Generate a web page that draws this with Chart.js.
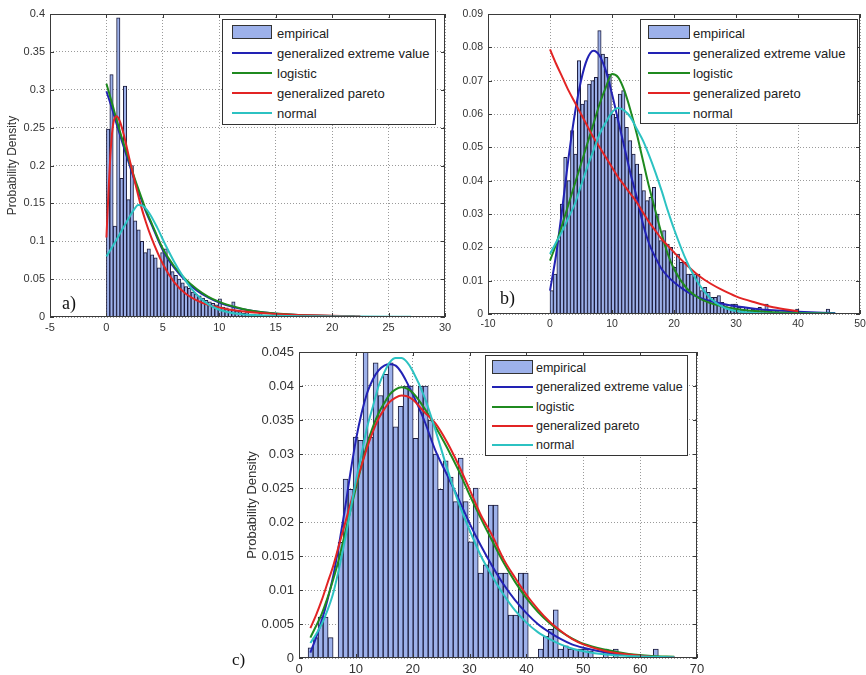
<!DOCTYPE html>
<html>
<head>
<meta charset="utf-8">
<script src="https://cdn.jsdelivr.net/npm/chart.js@4.4.0/dist/chart.umd.min.js"></script>
<style>
    body { margin: 0; background: #fff; width: 866px; height: 675px; position: relative; overflow: hidden; font-family: "Liberation Sans", Arial, sans-serif; }
    .panel { position: absolute; }
    .legend { position: absolute; background: #fff; border: 1px solid #333; box-sizing: border-box; color: #222; }
    .legend .row { position: absolute; height: 20px; display: flex; align-items: center; white-space: nowrap; }
    .legend .key { position: absolute; }
    .tag { position: absolute; font-family: "Liberation Serif", "DejaVu Serif", serif; line-height: 1; color: #111; }
</style>
</head>
<body>
<div class="panel" style="left:0;top:0"><canvas id="chartA" width="452" height="335"></canvas></div>
<div class="panel" style="left:440px;top:0"><canvas id="chartB" width="426" height="335"></canvas></div>
<div class="panel" style="left:220px;top:340px"><canvas id="chartC" width="490" height="335"></canvas></div>
<div class="tag" style="left:62px;top:294px;font-size:18px">a)</div>
<div class="tag" style="left:500px;top:289px;font-size:18px">b)</div>
<div class="tag" style="left:232px;top:651px;font-size:17px">c)</div>

<script>
const legendLabels = ['empirical', 'generalized extreme value', 'logistic', 'generalized pareto', 'normal'];

// ---- panel a ----
const binStartA = 0;
const binWidthA = 0.3;
const empiricalA = [0.248, 0.32, 0.12, 0.395, 0.183, 0.305, 0.155, 0.2, 0.127, 0.115,
    0.1, 0.085, 0.09, 0.082, 0.078, 0.065, 0.085, 0.09, 0.075, 0.06,
    0.055, 0.05, 0.045, 0.04, 0.038, 0.033, 0.03, 0.028, 0.025, 0.022,
    0.02, 0.018, 0.016, 0.024, 0.013, 0.012, 0.01, 0.02, 0.008, 0.007,
    0.005, 0.006, 0.004, 0.004, 0.003, 0.005, 0.002, 0.002, 0.001, 0.001,
    0.0015, 0, 0.002, 0, 0.001, 0, 0, 0.001, 0, 0,
    0, 0, 0, 0, 0.001];
const curveXA = [0, 0.5, 1, 1.5, 2, 2.5, 3, 3.5, 4, 5, 6, 7, 8, 9, 10, 11, 12, 13, 14, 15, 17, 19, 22];
const gevA = [0.298, 0.275, 0.25, 0.226, 0.203, 0.18, 0.159, 0.139, 0.122, 0.088, 0.065, 0.048, 0.035, 0.026, 0.019, 0.014, 0.0105, 0.0078, 0.0058, 0.0044, 0.0025, 0.0015, 0.0008];
const logisticA = [0.308, 0.282, 0.255, 0.23, 0.207, 0.183, 0.162, 0.141, 0.124, 0.09, 0.067, 0.05, 0.037, 0.027, 0.02, 0.015, 0.011, 0.008, 0.006, 0.0045, 0.0025, 0.0015, 0.0008];
const paretoXA = [0, 0.2, 0.4, 0.6, 0.9, 1.2, 1.6, 2, 2.5, 3, 3.5, 4, 5, 6, 7, 8, 9, 10, 11, 12, 14, 16, 18, 20, 22.5];
const paretoA = [0.105, 0.17, 0.225, 0.255, 0.265, 0.258, 0.237, 0.211, 0.18, 0.15, 0.125, 0.104, 0.07, 0.046, 0.031, 0.022, 0.016, 0.0125, 0.0095, 0.0075, 0.005, 0.0033, 0.0022, 0.0015, 0.001];
const normalXA = [0, 0.5, 1, 1.5, 2, 2.5, 2.8, 3.2, 3.8, 4.5, 5.3, 6, 6.8, 7.5, 8.3, 9, 10, 11, 12, 13, 15, 18, 22, 27];
const normalA = [0.08, 0.092, 0.105, 0.118, 0.131, 0.143, 0.148, 0.147, 0.137, 0.118, 0.093, 0.073, 0.053, 0.038, 0.025, 0.017, 0.0095, 0.0055, 0.0035, 0.0025, 0.0015, 0.001, 0.0006, 0.0003];

// ---- panel b ----
const binStartB = 0;
const binWidthB = 0.55;
const empiricalB = [0.007, 0.012, 0.022, 0.033, 0.047, 0.04, 0.055, 0.048, 0.076, 0.063,
    0.064, 0.069, 0.07, 0.071, 0.085, 0.078, 0.077, 0.072, 0.06, 0.059,
    0.066, 0.067, 0.056, 0.052, 0.048, 0.045, 0.042, 0.037, 0.034, 0.035,
    0.038, 0.03, 0.022, 0.025, 0.021, 0.02, 0.014, 0.018, 0.0155, 0.0155,
    0.012, 0.012, 0.012, 0.012, 0.007, 0.008, 0.0065, 0.005, 0.005, 0.0055,
    0.0035, 0.003, 0.002, 0.003, 0.003, 0.002, 0.0015, 0.002, 0.001, 0.0015,
    0.001, 0.002, 0.001, 0.003, 0.001, 0.0005, 0.001, 0, 0.0005, 0,
    0.0005, 0, 0.0015, 0.0005, 0, 0, 0.0005, 0, 0, 0,
    0, 0.0015];
const curveXB = [0, 1, 2, 3, 4, 5, 6, 7, 8, 9, 10, 11, 12, 13, 14, 15, 16, 17, 18, 19, 20, 22, 24, 26, 28, 30, 33, 36, 40, 44, 46];
const gevB = [0.007, 0.018, 0.032, 0.047, 0.06, 0.07, 0.0765, 0.079, 0.0775, 0.073, 0.066, 0.058, 0.05, 0.042, 0.035, 0.027, 0.021, 0.017, 0.0135, 0.0113, 0.0095, 0.0068, 0.005, 0.0038, 0.003, 0.0023, 0.0016, 0.0011, 0.0007, 0.0004, 0.0003];
const logisticB = [0.016, 0.021, 0.027, 0.033, 0.039, 0.045, 0.051, 0.057, 0.063, 0.068, 0.072, 0.071, 0.067, 0.061, 0.054, 0.046, 0.038, 0.031, 0.024, 0.018, 0.0135, 0.0078, 0.0048, 0.0032, 0.0022, 0.0015, 0.0009, 0.0005, 0.0003, 0.0002, 0.0001];
const paretoB = [0.0794, 0.075, 0.071, 0.067, 0.0635, 0.06, 0.0565, 0.053, 0.05, 0.047, 0.044, 0.041, 0.0385, 0.036, 0.0335, 0.0305, 0.0275, 0.025, 0.0225, 0.0205, 0.0185, 0.0148, 0.0115, 0.009, 0.007, 0.0053, 0.0035, 0.002, 0.0008, null, null];
const normalB = [0.018, 0.0215, 0.025, 0.029, 0.033, 0.0385, 0.044, 0.049, 0.054, 0.0575, 0.0605, 0.0618, 0.061, 0.059, 0.0555, 0.052, 0.0475, 0.0425, 0.037, 0.031, 0.0255, 0.016, 0.009, 0.0045, 0.002, 0.0009, 0.0003, 0.0001, 0.0001, 0.0001, 0.0001];

// ---- panel c ----
const binStartC = 1.6;
const binWidthC = 0.88;
const empiricalC = [0.0015, 0.003, 0.006, 0.006, 0.003, 0, 0.017, 0.0263, 0.0248, 0.0325,
    0.032, 0.045, 0.0325, 0.0434, 0.0386, 0.0417, 0.0434, 0.034, 0.037, 0.04,
    0.04, 0.0323, 0.04, 0.04, 0.035, 0.03, 0.0248, 0.029, 0.0266, 0.023,
    0.0294, 0.023, 0.0171, 0.025, 0.0125, 0.0137, 0.0225, 0.0225, 0.0125, 0.0125,
    0.0063, 0.0063, 0.0125, 0.0125, 0, 0, 0.0013, 0.0032, 0.0042, 0.0071,
    0.0013, 0.0018, 0.0013, 0.0013, 0.0013, 0.0013, 0.001, 0, 0, 0.0013,
    0, 0.0013, 0, 0, 0.0005, 0, 0, 0, 0, 0.0013];
const curveXC = [2, 3, 4, 5, 6, 7, 8, 9, 10, 11, 12, 13, 14, 15, 16, 17, 18, 19, 20, 22, 24, 26, 28, 30, 32, 34, 36, 38, 40, 42, 44, 46, 48, 50, 54, 58, 62, 66];
const gevC = [0.0008, 0.003, 0.0055, 0.0085, 0.012, 0.0165, 0.0215, 0.027, 0.032, 0.036, 0.039, 0.041, 0.0423, 0.043, 0.0432, 0.043, 0.042, 0.0405, 0.0388, 0.035, 0.0305, 0.027, 0.0235, 0.0198, 0.0165, 0.0135, 0.0108, 0.0085, 0.0066, 0.005, 0.0038, 0.0028, 0.002, 0.0015, 0.0008, 0.0004, 0.0002, 0.0001];
const logisticC = [0.003, 0.0047, 0.0065, 0.0088, 0.0115, 0.0145, 0.018, 0.0215, 0.025, 0.0283, 0.0315, 0.034, 0.036, 0.0375, 0.0388, 0.0395, 0.0398, 0.0396, 0.039, 0.0368, 0.034, 0.031, 0.0277, 0.024, 0.0205, 0.0172, 0.014, 0.0112, 0.0088, 0.0068, 0.0052, 0.0039, 0.0029, 0.0021, 0.0012, 0.0006, 0.0003, 0.0002];
const paretoC = [0.0044, 0.0063, 0.0085, 0.011, 0.0135, 0.0165, 0.0195, 0.0225, 0.0255, 0.0283, 0.031, 0.0333, 0.0352, 0.0366, 0.0377, 0.0383, 0.0386, 0.0385, 0.038, 0.0362, 0.0345, 0.0318, 0.0285, 0.0248, 0.021, 0.018, 0.0145, 0.0118, 0.0093, 0.0072, 0.0054, 0.004, 0.0028, 0.002, 0.001, 0.0005, 0.0002, 0.0001];
const normalC = [0.0022, 0.0035, 0.005, 0.007, 0.0095, 0.013, 0.017, 0.0215, 0.026, 0.03, 0.034, 0.037, 0.04, 0.042, 0.0435, 0.0441, 0.0441, 0.0435, 0.0422, 0.0385, 0.0335, 0.028, 0.023, 0.0188, 0.015, 0.012, 0.0093, 0.007, 0.0052, 0.0038, 0.0028, 0.002, 0.0014, 0.001, 0.0005, 0.0003, 0.0002, 0.0001];

const BAR_FILL = '#9db1ea';
const BAR_EDGE = '#1c1c3c';
const BLUE = '#2222b4';
const GREEN = '#1f8a1f';
const RED = '#e22424';
const CYAN = '#2cc2c2';

function binPoints(start, width, values) {
    return values.map((v, i) => ({ x: start + width * (i + 0.5), y: v }));
}

function curvePoints(xs, ys) {
    return xs.map((x, i) => ({ x: x, y: ys[i] }));
}

function fmt(v) {
    return String(Math.round(v * 100000) / 100000);
}

// box round the axes plus small inward ticks, matlab style
const framePlugin = {
    id: 'frame',
    afterDatasetsDraw(chart) {
        const { ctx, chartArea: a, scales: { x, y } } = chart;
        ctx.save();
        ctx.strokeStyle = '#3a3a3a';
        ctx.lineWidth = 1;
        ctx.strokeRect(a.left + 0.5, a.top + 0.5, a.right - a.left - 1, a.bottom - a.top - 1);
        ctx.beginPath();
        x.ticks.forEach(t => {
            const px = Math.round(x.getPixelForValue(t.value)) + 0.5;
            ctx.moveTo(px, a.bottom); ctx.lineTo(px, a.bottom - 4);
            ctx.moveTo(px, a.top); ctx.lineTo(px, a.top + 4);
        });
        y.ticks.forEach(t => {
            const py = Math.round(y.getPixelForValue(t.value)) + 0.5;
            ctx.moveTo(a.left, py); ctx.lineTo(a.left + 4, py);
            ctx.moveTo(a.right, py); ctx.lineTo(a.right - 4, py);
        });
        ctx.stroke();
        ctx.restore();
    }
};

function lineSet(label, pts, color, order) {
    return {
        type: 'line', label: label, data: pts,
        borderColor: color, borderWidth: 2, pointRadius: 0,
        cubicInterpolationMode: 'monotone', fill: false, order: order
    };
}

function drawPanel(canvasId, p) {
    new Chart(document.getElementById(canvasId), {
        type: 'bar',
        data: {
            datasets: [
                {
                    type: 'bar', label: legendLabels[0], data: p.bars,
                    backgroundColor: BAR_FILL, borderColor: BAR_EDGE, borderWidth: 1,
                    barPercentage: 1, categoryPercentage: 1, order: 10
                },
                lineSet(legendLabels[1], p.gev, BLUE, 4),
                lineSet(legendLabels[2], p.logistic, GREEN, 3),
                lineSet(legendLabels[3], p.pareto, RED, 2),
                lineSet(legendLabels[4], p.normal, CYAN, 1)
            ]
        },
        plugins: [framePlugin],
        options: {
            responsive: false,
            animation: false,
            events: [],
            layout: { padding: p.padding },
            plugins: { legend: { display: false }, tooltip: { enabled: false } },
            scales: {
                x: {
                    type: 'linear', min: p.xMin, max: p.xMax, offset: false,
                    ticks: { stepSize: p.xStep, autoSkip: false, maxRotation: 0, padding: 4, color: '#333', font: { size: p.tickSize, family: 'Liberation Sans' }, callback: fmt },
                    grid: { color: '#9a9a9a', drawTicks: false, offset: false },
                    border: { display: false, dash: [1, 2] },
                    afterFit(s) { s.height = p.xHeight; s.paddingLeft = 0; s.paddingRight = 0; }
                },
                y: {
                    min: 0, max: p.yMax,
                    ticks: { stepSize: p.yStep, autoSkip: false, padding: 5, color: '#333', font: { size: p.tickSize, family: 'Liberation Sans' }, callback: fmt },
                    grid: { color: '#9a9a9a', drawTicks: false },
                    border: { display: false, dash: [1, 2] },
                    title: {
                        display: !!p.yTitle, text: p.yTitle || '', color: '#333',
                        font: { size: p.titleSize || 12, family: 'Liberation Sans' },
                        padding: { top: p.titlePad || 0, bottom: 0 }
                    },
                    afterFit(s) { s.width = p.yWidth; s.paddingTop = 0; s.paddingBottom = 0; }
                }
            }
        }
    });
}

function drawLegend(spec) {
    const box = document.createElement('div');
    box.className = 'legend';
    Object.assign(box.style, {
        left: spec.left + 'px', top: spec.top + 'px',
        width: spec.width + 'px', height: spec.height + 'px', fontSize: spec.font + 'px'
    });
    const colors = [null, BLUE, GREEN, RED, CYAN];
    legendLabels.forEach((label, i) => {
        const cy = spec.firstRow + i * spec.gap;
        const key = document.createElement('div');
        key.className = 'key';
        if (i === 0) {
            Object.assign(key.style, {
                left: spec.keyLeft + 'px', top: (cy - 8) + 'px', width: spec.keyWidth + 'px', height: '14px',
                background: BAR_FILL, border: '1px solid #333', boxSizing: 'border-box'
            });
        } else {
            Object.assign(key.style, {
                left: spec.keyLeft + 'px', top: (cy - 1) + 'px', width: spec.keyWidth + 'px', height: '2px',
                background: colors[i]
            });
        }
        const row = document.createElement('div');
        row.className = 'row';
        row.style.left = spec.textLeft + 'px';
        row.style.top = (cy - 10) + 'px';
        row.textContent = label;
        box.appendChild(key);
        box.appendChild(row);
    });
    document.body.appendChild(box);
}

drawPanel('chartA', {
    bars: binPoints(binStartA, binWidthA, empiricalA),
    gev: curvePoints(curveXA, gevA),
    logistic: curvePoints(curveXA, logisticA),
    pareto: curvePoints(paretoXA, paretoA),
    normal: curvePoints(normalXA, normalA),
    xMin: -5, xMax: 30, xStep: 5, yMax: 0.4, yStep: 0.05,
    padding: { top: 14, right: 7, left: 0, bottom: 0 },
    yWidth: 50, xHeight: 18, tickSize: 11,
    yTitle: 'Probability Density', titleSize: 12, titlePad: 5
});

drawPanel('chartB', {
    bars: binPoints(binStartB, binWidthB, empiricalB),
    gev: curvePoints(curveXB, gevB),
    logistic: curvePoints(curveXB, logisticB),
    pareto: curvePoints(curveXB, paretoB),
    normal: curvePoints(curveXB, normalB),
    xMin: -10, xMax: 50, xStep: 10, yMax: 0.09, yStep: 0.01,
    padding: { top: 14, right: 6, left: 0, bottom: 0 },
    yWidth: 48, xHeight: 21, tickSize: 10.5
});

drawPanel('chartC', {
    bars: binPoints(binStartC, binWidthC, empiricalC),
    gev: curvePoints(curveXC, gevC),
    logistic: curvePoints(curveXC, logisticC),
    pareto: curvePoints(curveXC, paretoC),
    normal: curvePoints(curveXC, normalC),
    xMin: 0, xMax: 70, xStep: 10, yMax: 0.045, yStep: 0.005,
    padding: { top: 12, right: 13, left: 0, bottom: 0 },
    yWidth: 79, xHeight: 17, tickSize: 13,
    yTitle: 'Probability Density', titleSize: 13, titlePad: 25
});

drawLegend({ left: 222, top: 19, width: 214, height: 106, keyLeft: 9, keyWidth: 40, textLeft: 54, firstRow: 13, gap: 20, font: 13 });
drawLegend({ left: 640, top: 19, width: 218, height: 105, keyLeft: 7, keyWidth: 42, textLeft: 52, firstRow: 13, gap: 20, font: 13 });
drawLegend({ left: 485, top: 355, width: 203, height: 101, keyLeft: 6, keyWidth: 41, textLeft: 50, firstRow: 12, gap: 19.3, font: 12.5 });
</script>
</body>
</html>
